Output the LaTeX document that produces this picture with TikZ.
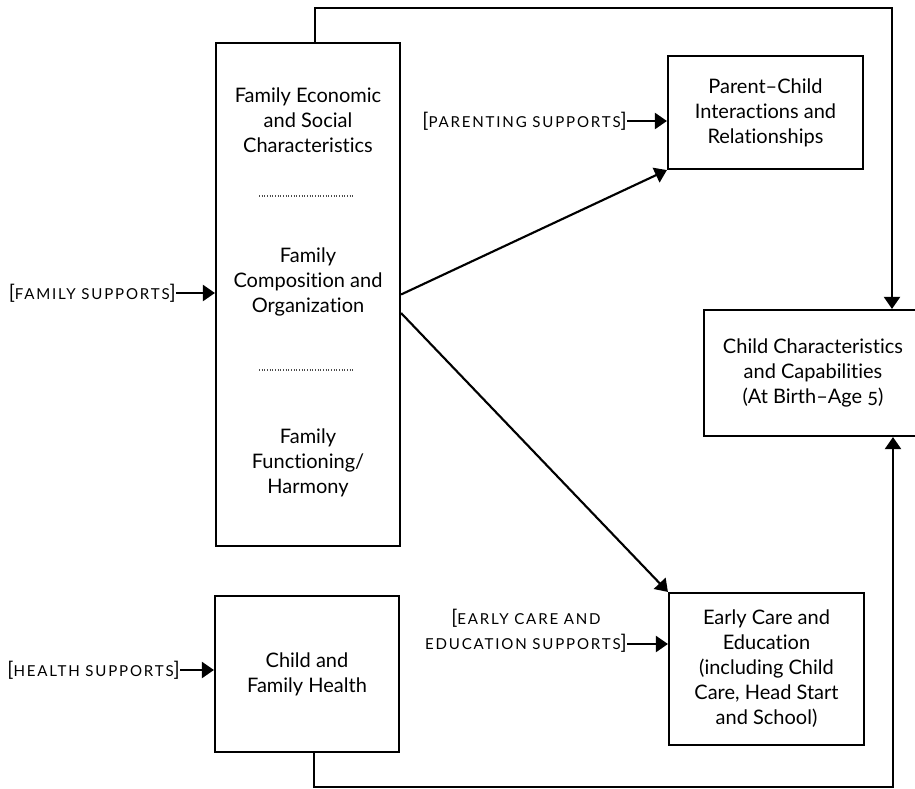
\documentclass[tikz,border=0pt]{standalone}
\usepackage{fontspec}
\setmainfont[Numbers=OldStyle,Ligatures=NoCommon]{Lato}
\usetikzlibrary{arrows.meta}

\newcommand\capsf[1]{{\fontsize{11.3}{18.75}\selectfont\addfontfeatures{LetterSpace=12}\MakeUppercase{#1}}}

\tikzset{
	box/.style={draw,line width=1.6pt,inner sep=0pt,align=center},
	arr/.style={line width=1.6pt,-{Triangle[length=9pt,width=12pt]}},
	sep/.style={line width=.8pt,black!70,dash pattern=on .8pt off 1.2pt},
	lbl/.style={align=center,inner sep=0pt}
}

\begin{document}
\begin{tikzpicture}[x=.75pt,y=-.75pt,font=\fontsize{15}{18.75}\selectfont]
		\useasboundingbox (0,0) rectangle (915,789);
		% boxes
		\node[box,minimum width=138pt,minimum height=377.25pt] (fam) at (308,294.5) {};
		\node[box,minimum width=146.25pt,minimum height=84.75pt] (par) at (765.5,112.5) {Parent--Child\\Interactions and\\Relationships};
		\node[box,minimum width=163.5pt,minimum height=94.5pt] (chd) at (813,373) {Child Characteristics\\and Capabilities\\(At Birth--Age 5)};
		\node[box,minimum width=146.25pt,minimum height=114pt] (ece) at (766.5,669) {Early Care and\\Education\\(including Child\\Care, Head Start\\and School)};
		\node[box,minimum width=138pt,minimum height=117pt] (hlt) at (307,674) {Child and\\Family Health};
		% inside the family box
		\node[lbl] (econ) at (308,120) {Family Economic\\and Social\\Characteristics};
		\node[lbl] (comp) at (308,282) {Family\\Composition and\\Organization};
		\node[lbl] (func) at (308,463) {Family\\Functioning/\\Harmony};
		\draw[sep] (259,196)--(354,196);
		\draw[sep] (259,370)--(354,370);
		% supports
		\node[lbl,anchor=east] (fs) at (176,293) {[\capsf{family supports}]};
		\node[lbl,anchor=east] (hs) at (180,670) {[\capsf{health supports}]};
		\node[lbl,anchor=east] (ps) at (627,121) {[\capsf{parenting supports}]};
		\node[lbl,anchor=east] (es) at (627,631) {[\capsf{early care and}\\\capsf{education supports}]};
		\coordinate (esa) at (627,644);
		\draw[arr] (fs.east)--(fs.east -| fam.west);
		\draw[arr] (hs.east)--(hs.east -| hlt.west);
		\draw[arr] (ps.east)--(ps.east -| par.west);
		\draw[arr] (esa)--(esa -| ece.west);
		% links
		\draw[arr] (fam.east)--(par.south west);
		\draw[arr] ([yshift=-13.9pt]fam.east)--(ece.north west);
		\coordinate (tr) at (892,8);
		\coordinate (br) at (893,787);
		\draw[arr] ([xshift=5.25pt]fam.north) |- (tr) -- (tr |- chd.north);
		\draw[arr] ([xshift=5.25pt]hlt.south) |- (br) -- (br |- chd.south);
	\end{tikzpicture}
\end{document}
